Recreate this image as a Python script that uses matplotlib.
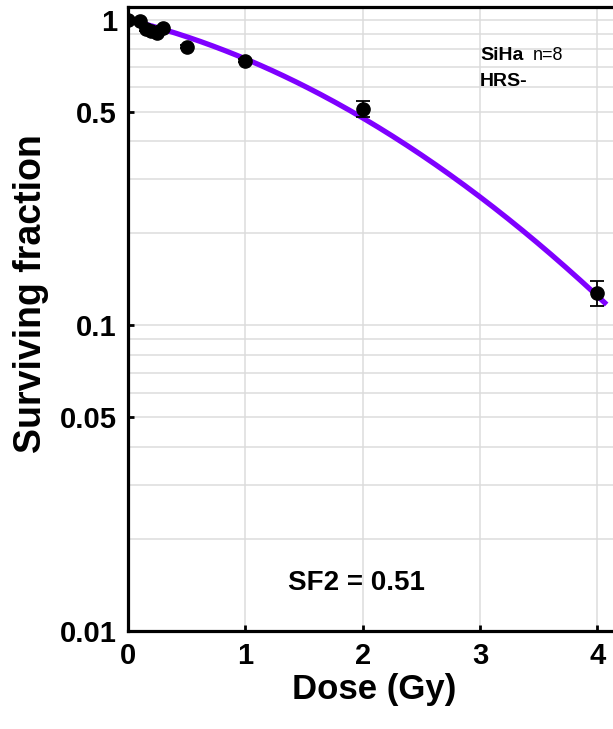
import numpy as np
import matplotlib
matplotlib.use("Agg")
import matplotlib.pyplot as plt
from matplotlib.ticker import LogLocator, FixedLocator, NullFormatter

plt.rcParams["font.family"] = ["Liberation Sans", "DejaVu Sans"]
plt.rcParams["font.weight"] = "bold"

# SiHa clonogenic survival
dose = [0, 0.1, 0.15, 0.2, 0.25, 0.3, 0.5, 1, 2, 4]
surv = [1.0, 0.99, 0.93, 0.92, 0.905, 0.94, 0.815, 0.735, 0.51, 0.128]
surv_err = [0.01, 0.01, 0.01, 0.01, 0.01, 0.01, 0.01, 0.01, 0.03, 0.012]

# linear-quadratic fit
alpha = 0.22
beta = 0.075
fit_dose_max = 4.08

y_ticks = [0.01, 0.05, 0.1, 0.5, 1]
y_ticklabels = ["0.01", "0.05", "0.1", "0.5", "1"]
x_ticks = [0, 1, 2, 3, 4]

fig = plt.figure(figsize=(6.13, 7.29), dpi=100)
ax = fig.add_axes([128 / 613, 98 / 729, 492.7 / 613, 624 / 729])

d = np.linspace(0, fit_dose_max, 200)
ax.plot(d, np.exp(-alpha * d - beta * d ** 2), color="#7F00FF", lw=3.8,
        zorder=3, solid_capstyle="butt")
ax.errorbar(dose, surv, yerr=surv_err, fmt="o", color="black", ms=9.5,
            elinewidth=1.3, capsize=5, capthick=1.3, zorder=4)

ax.set_yscale("log")
ax.set_ylim(0.01, 1.1)
ax.set_xlim(0, 4.2)

ax.yaxis.set_major_locator(FixedLocator(y_ticks))
ax.set_yticklabels(y_ticklabels)
ax.yaxis.set_minor_locator(LogLocator(base=10, subs=np.arange(2, 10)))
ax.yaxis.set_minor_formatter(NullFormatter())
ax.set_xticks(x_ticks)

ax.grid(True, which="both", axis="y", color="#dcdcdc", lw=1.1, zorder=0)
ax.grid(True, which="major", axis="x", color="#dcdcdc", lw=1.1, zorder=0)
ax.set_axisbelow(True)

ax.tick_params(axis="both", which="major", direction="in", length=4,
               width=2, labelsize=21, pad=8)
ax.tick_params(axis="y", which="minor", length=0)

for s in ["left", "bottom", "top"]:
    ax.spines[s].set_linewidth(2.3)
ax.spines["right"].set_visible(False)

ax.set_xlabel("Dose (Gy)", fontsize=25, fontweight="bold", labelpad=2)
ax.set_ylabel("Surviving fraction", fontsize=27, fontweight="bold")
ax.yaxis.set_label_coords(-0.16, 0.54)

ax.text(3.0, 0.762, "SiHa", fontsize=14, fontweight="bold", va="center")
ax.text(3.45, 0.762, "n=8", fontsize=13, fontweight="normal", va="center")
ax.text(3.0, 0.627, "HRS-", fontsize=14, fontweight="bold", va="center")
ax.text(1.364, 0.01434, "SF2 = 0.51", fontsize=20, fontweight="bold", va="center")

fig.savefig("out.png", dpi=100)
